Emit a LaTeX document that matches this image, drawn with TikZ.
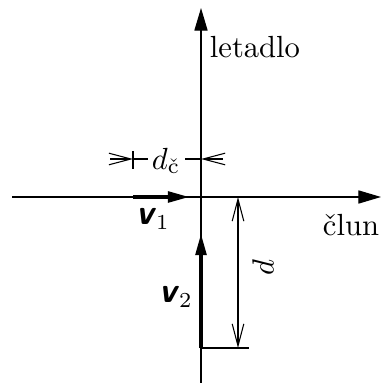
\documentclass[tikz,border=0pt]{standalone}
\usepackage{amsmath}
\usetikzlibrary{arrows.meta}
\newcommand{\vecv}{{\fontsize{11.5}{13}\selectfont\textsf{\bfseries\slshape v}}}
\begin{document}
\begin{tikzpicture}[x=0.327pt,y=-0.327pt,
  axisline/.style={line width=0.4pt,-{Triangle[length=7.4pt,width=4.3pt]}},
  vecline/.style={line width=1.3pt,-{Triangle[length=7.2pt,width=3.4pt]}},
  dimline/.style={line width=0.35pt},
  barb/.style={{Straight Barb[length=7.2pt,width=3.8pt]}-},
  dimbar/.style={line width=0.35pt,{Straight Barb[length=7.2pt,width=3.8pt]}-{Straight Barb[length=7.2pt,width=3.8pt]}},
  lbl/.style={inner sep=0pt}]
\useasboundingbox (0,0) rectangle (381,383);
% coordinates
\coordinate (O) at (201,197);
\coordinate (xl) at (12,197);
\coordinate (xr) at (381,197);
\coordinate (yb) at (201,383);
\coordinate (yt) at (201,8);
% axes
\draw[axisline] (xl) -- (xr);
\draw[axisline] (yb) -- (yt);
% vectors
\coordinate (v1s) at (133,197);
\coordinate (v1e) at (190,197);
\draw[vecline] (v1s) -- (v1e);
\coordinate (v2s) at (201,348);
\coordinate (v2e) at (201,233);
\draw[vecline] (v2s) -- (v2e);
% d dimension
\coordinate (dt) at (238,197);
\coordinate (db) at (238,348);
\coordinate (et) at (249,197);
\coordinate (eb) at (249,348);
\draw[dimline] (O) -- (et);
\draw[dimline] (v2s) -- (eb);
\draw[dimbar] (dt) -- (db);
% d_c dimension
\coordinate (ct1) at (133,151);
\coordinate (ct2) at (133,169);
\draw[dimline] (ct1) -- (ct2);
\coordinate (cl) at (133,159);
\coordinate (cr) at (201,159);
\coordinate (cll) at (110,159);
\coordinate (clm) at (148,159);
\coordinate (crm) at (185,159);
\coordinate (crr) at (223,159);
\draw[dimline,barb] (cl) -- (cll);
\draw[dimline] (cl) -- (clm);
\draw[dimline,barb] (cr) -- (crr);
\draw[dimline] (cr) -- (crm);
% labels
\node[lbl] (letadlo) at (255,47) {letadlo};
\node[lbl] (clun) at (351,225) {člun};
\node[lbl] (v1l) at (153,219) {\vecv$_1$};
\node[lbl] (v2l) at (176,297) {\vecv$_2$};
\node[lbl,rotate=90] (dl) at (263,268) {$d$};
\node[lbl] (dcl) at (166,161) {$d_{\text{č}}$};
\end{tikzpicture}
\end{document}
